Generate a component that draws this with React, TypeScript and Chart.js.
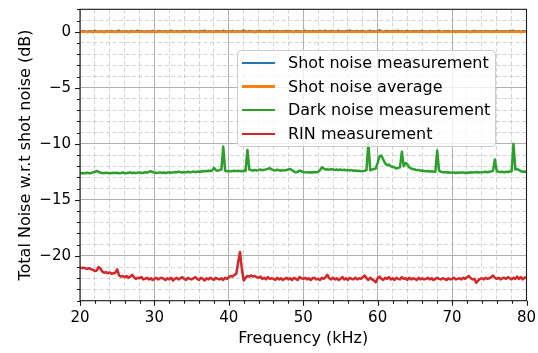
import React, { useEffect, useRef } from 'react';
import { Chart, registerables } from 'chart.js';

Chart.register(...registerables);

const freqKHz = [
  20, 20.25, 20.5, 20.75, 21, 21.25, 21.5, 21.75, 22, 22.25, 22.5, 22.75,
  23, 23.25, 23.5, 23.75, 24, 24.25, 24.5, 24.75, 25, 25.25, 25.5, 25.75,
  26, 26.25, 26.5, 26.75, 27, 27.25, 27.5, 27.75, 28, 28.25, 28.5, 28.75,
  29, 29.25, 29.5, 29.75, 30, 30.25, 30.5, 30.75, 31, 31.25, 31.5, 31.75,
  32, 32.25, 32.5, 32.75, 33, 33.25, 33.5, 33.75, 34, 34.25, 34.5, 34.75,
  35, 35.25, 35.5, 35.75, 36, 36.25, 36.5, 36.75, 37, 37.25, 37.5, 37.75,
  38, 38.25, 38.5, 38.75, 39, 39.25, 39.5, 39.75, 40, 40.25, 40.5, 40.75,
  41, 41.25, 41.5, 41.75, 42, 42.25, 42.5, 42.75, 43, 43.25, 43.5, 43.75,
  44, 44.25, 44.5, 44.75, 45, 45.25, 45.5, 45.75, 46, 46.25, 46.5, 46.75,
  47, 47.25, 47.5, 47.75, 48, 48.25, 48.5, 48.75, 49, 49.25, 49.5, 49.75,
  50, 50.25, 50.5, 50.75, 51, 51.25, 51.5, 51.75, 52, 52.25, 52.5, 52.75,
  53, 53.25, 53.5, 53.75, 54, 54.25, 54.5, 54.75, 55, 55.25, 55.5, 55.75,
  56, 56.25, 56.5, 56.75, 57, 57.25, 57.5, 57.75, 58, 58.25, 58.5, 58.75,
  59, 59.25, 59.5, 59.75, 60, 60.25, 60.5, 60.75, 61, 61.25, 61.5, 61.75,
  62, 62.25, 62.5, 62.75, 63, 63.25, 63.5, 63.75, 64, 64.25, 64.5, 64.75,
  65, 65.25, 65.5, 65.75, 66, 66.25, 66.5, 66.75, 67, 67.25, 67.5, 67.75,
  68, 68.25, 68.5, 68.75, 69, 69.25, 69.5, 69.75, 70, 70.25, 70.5, 70.75,
  71, 71.25, 71.5, 71.75, 72, 72.25, 72.5, 72.75, 73, 73.25, 73.5, 73.75,
  74, 74.25, 74.5, 74.75, 75, 75.25, 75.5, 75.75, 76, 76.25, 76.5, 76.75,
  77, 77.25, 77.5, 77.75, 78, 78.25, 78.5, 78.75, 79, 79.25, 79.5, 79.75,
  80,
];

const shotNoise = [
  0.04, -0.02, 0.06, 0.01, -0.03, 0.05, 0.02, -0.04, 0.08, 0.0, -0.02, 0.05,
  0.03, -0.05, 0.06, 0.02, -0.01, 0.07, 0.0, -0.03, 0.04, 0.09, -0.02, 0.03,
  0.0, 0.05, -0.04, 0.02, 0.06, -0.01, 0.03, 0.08, -0.02, 0.04, 0.01, -0.03,
  0.05, 0.02, -0.02, 0.07, 0.01, -0.03, 0.04, 0.06, -0.01, 0.02, 0.05, -0.04,
  0.03, 0.08, 0.0, -0.02, 0.05, 0.02, -0.03, 0.06, 0.01, 0.04, -0.02, 0.07,
  0.02, -0.01, 0.05, 0.03, -0.04, 0.06, 0.01, 0.09, -0.02, 0.03, 0.05, 0.0,
  -0.03, 0.06, 0.02, 0.04, -0.01, 0.08, 0.03, -0.02, 0.05, 0.01, 0.07, -0.03,
  0.02, 0.05, -0.01, 0.04, 0.1, 0.02, -0.02, 0.06, 0.01, 0.03, -0.04, 0.05,
  0.02, 0.07, -0.01, 0.03, 0.05, -0.03, 0.08, 0.01, 0.04, -0.02, 0.06, 0.02,
  -0.01, 0.05, 0.03, 0.07, -0.02, 0.04, 0.01, -0.03, 0.06, 0.02, 0.05, -0.01,
  0.03, 0.08, 0.0, 0.04, -0.02, 0.06, 0.02, 0.05, -0.03, 0.07, 0.01, 0.04,
  0.09, -0.01, 0.03, 0.06, 0.02, -0.02, 0.05, 0.08, 0.01, 0.04, -0.03, 0.06,
  0.03, 0.1, -0.01, 0.05, 0.02, 0.07, -0.02, 0.04, 0.06, 0.01, -0.03, 0.05,
  0.08, 0.02, 0.04, -0.01, 0.06, 0.11, 0.03, -0.02, 0.05, 0.07, 0.01, 0.04,
  -0.02, 0.06, 0.03, 0.08, 0.0, 0.05, -0.03, 0.04, 0.07, 0.02, -0.01, 0.06,
  0.03, 0.05, -0.02, 0.04, 0.08, 0.01, 0.03, -0.03, 0.06, 0.02, 0.05, -0.01,
  0.04, 0.07, 0.0, -0.02, 0.05, 0.03, 0.06, -0.01, 0.02, 0.05, -0.03, 0.04,
  0.01, 0.06, -0.02, 0.03, 0.05, 0.0, -0.03, 0.04, 0.07, 0.02, -0.01, 0.05,
  0.03, -0.02, 0.06, 0.01, 0.04, -0.03, 0.05, 0.02, 0.08, -0.01, 0.03, 0.05,
  0.0, 0.04, -0.02, 0.06, 0.02, 0.09, -0.01, 0.03, 0.05, -0.03, 0.04, 0.02,
  0.03,
];

const shotAvgFreq = [20, 80];
const shotAvg = [0, 0];

const darkNoise = [
  -12.62, -12.6, -12.64, -12.6, -12.58, -12.62, -12.6, -12.55, -12.5, -12.42, -12.5, -12.58,
  -12.6, -12.62, -12.58, -12.6, -12.63, -12.6, -12.58, -12.61, -12.59, -12.62, -12.6, -12.57,
  -12.6, -12.63, -12.58, -12.55, -12.6, -12.58, -12.62, -12.57, -12.55, -12.6, -12.58, -12.53,
  -12.58, -12.5, -12.44, -12.52, -12.57, -12.6, -12.58, -12.55, -12.58, -12.56, -12.6, -12.57,
  -12.54, -12.58, -12.55, -12.52, -12.55, -12.48, -12.53, -12.56, -12.52, -12.55, -12.5, -12.54,
  -12.52, -12.48, -12.53, -12.5, -12.47, -12.5, -12.45, -12.42, -12.45, -12.4, -12.43, -12.38,
  -12.15, -12.35, -12.4, -12.35, -12.3, -10.25, -12.4, -12.45, -12.42, -12.45, -12.43, -12.4,
  -12.44, -12.4, -12.42, -12.45, -12.4, -12.42, -10.55, -12.3, -12.35, -12.4, -12.33, -12.38,
  -12.35, -12.3, -12.36, -12.32, -12.28, -12.22, -12.18, -12.28, -12.35, -12.38, -12.32, -12.36,
  -12.4, -12.35, -12.38, -12.34, -12.3, -12.26, -12.35, -12.48, -12.55, -12.5, -12.4, -12.45,
  -12.52, -12.55, -12.53, -12.56, -12.54, -12.57, -12.52, -12.55, -12.5, -12.35, -12.1, -12.2,
  -12.3, -12.28, -12.32, -12.26, -12.3, -12.34, -12.3, -12.33, -12.3, -12.35, -12.32, -12.36,
  -12.34, -12.38, -12.35, -12.4, -12.38, -12.42, -12.4, -12.44, -12.42, -12.4, -12.35, -9.9,
  -12.35, -12.3, -12.25, -12.2, -11.7, -11.1, -11.05, -11.4, -11.75, -11.9, -11.85, -12.0,
  -12.05, -12.1, -12.2, -12.15, -12.1, -10.7, -12.0, -11.72, -11.85, -12.1, -12.2, -12.28,
  -12.3, -12.35, -12.33, -12.4, -12.38, -12.42, -12.45, -12.43, -12.47, -12.45, -12.48, -12.5,
  -10.6, -12.4, -12.5, -12.55, -12.52, -12.56, -12.54, -12.58, -12.55, -12.57, -12.6, -12.56,
  -12.58, -12.55, -12.57, -12.6, -12.56, -12.58, -12.54, -12.57, -12.55, -12.52, -12.56, -12.53,
  -12.55, -12.52, -12.5, -12.54, -12.5, -12.47, -12.4, -11.4, -12.45, -12.5, -12.52, -12.5,
  -12.53, -12.5, -12.52, -12.48, -12.45, -10.0, -12.3, -12.25, -12.35, -12.45, -12.5, -12.48,
  -12.52,
];

const rinNoise = [
  -21.04, -21.1, -21.05, -21.12, -21.15, -21.1, -21.18, -21.25, -21.35, -21.3, -21.0, -21.15,
  -21.4, -21.5, -21.45, -21.55, -21.48, -21.6, -21.55, -21.5, -21.2, -21.75, -21.85, -21.8,
  -21.9, -21.8, -21.95, -21.85, -21.7, -21.9, -22.05, -21.95, -22.0, -21.9, -22.1, -22.05,
  -21.95, -22.1, -22.0, -22.15, -22.05, -21.95, -22.1, -22.0, -21.95, -22.05, -22.15, -22.0,
  -22.1, -21.95, -22.2, -22.05, -21.95, -22.1, -22.0, -21.9, -22.05, -22.15, -21.95, -22.05,
  -22.1, -22.0, -21.9, -22.05, -22.15, -21.95, -22.05, -22.2, -22.0, -22.1, -21.95, -22.05,
  -22.15, -21.95, -22.05, -22.1, -22.0, -22.15, -21.95, -22.05, -21.9, -21.8, -21.85, -21.7,
  -21.6, -20.6, -19.65, -21.2, -22.2, -21.95, -21.8, -21.85, -21.75, -21.85, -21.8, -21.9,
  -21.95, -21.85, -22.05, -21.95, -22.1, -21.9, -22.05, -22.0, -22.05, -22.15, -21.95, -22.1,
  -22.0, -22.15, -22.05, -21.95, -22.1, -22.0, -22.15, -21.95, -22.05, -22.15, -21.9, -22.0,
  -22.05, -21.95, -22.1, -22.0, -22.15, -22.0, -21.95, -22.1, -22.05, -22.15, -21.95, -22.05,
  -21.9, -21.7, -22.0, -22.1, -21.95, -22.1, -22.0, -22.15, -22.05, -21.9, -22.1, -22.0,
  -22.15, -21.95, -22.05, -22.1, -21.95, -22.1, -22.0, -22.05, -21.9, -21.75, -22.0, -22.15,
  -21.95, -22.1, -22.2, -22.35, -22.0, -21.85, -22.05, -22.15, -21.95, -22.05, -21.9, -22.1,
  -22.0, -22.15, -21.95, -22.05, -22.1, -21.9, -22.05, -22.0, -22.15, -21.95, -22.1, -22.0,
  -22.05, -22.15, -21.95, -22.1, -22.0, -22.1, -22.05, -21.95, -22.1, -22.0, -22.15, -22.05,
  -21.95, -22.05, -22.1, -22.0, -22.05, -22.15, -22.0, -22.1, -22.05, -21.95, -22.1, -22.05,
  -22.0, -22.1, -21.95, -22.05, -21.9, -21.8, -22.0, -22.1, -22.05, -22.4, -22.2, -22.05,
  -22.0, -22.1, -21.95, -22.05, -22.0, -21.9, -21.75, -21.95, -22.05, -21.95, -22.1, -22.0,
  -21.95, -22.05, -21.9, -22.0, -22.1, -21.95, -22.05, -21.85, -22.05, -21.9, -22.1, -21.95,
  -21.9,
];

const seriesLabels = [
  'Shot noise measurement',
  'Shot noise average',
  'Dark noise measurement',
  'RIN measurement',
];
const seriesColors = ['#1f77b4', '#ff7f0e', '#2ca02c', '#d62728'];

const xMin = 20;
const xMax = 80;
const yMin = -24;
const yMax = 2;

const FONT = "'DejaVu Sans', 'Liberation Sans', sans-serif";

const isMajorX = (v: number) => Math.abs(v % 10) < 1e-9;
const isMajorY = (v: number) => Math.abs(v % 5) < 1e-9;
const fmt = (v: number) => (v < 0 ? '\u2212' + String(-v) : String(v));

const framePlugin = {
  id: 'frameAndTicks',
  afterDatasetsDraw(chart: any) {
    const { ctx, chartArea, scales } = chart;
    const { left, right, top, bottom } = chartArea;
    ctx.save();
    ctx.strokeStyle = '#1a1a1a';
    ctx.lineWidth = 1.1;
    ctx.setLineDash([]);
    ctx.beginPath();
    for (const t of scales.x.ticks) {
      const px = Math.round(scales.x.getPixelForValue(t.value)) + 0.5;
      const len = isMajorX(t.value) ? 5 : 3;
      ctx.moveTo(px, bottom);
      ctx.lineTo(px, bottom + len);
    }
    for (const t of scales.y.ticks) {
      const py = Math.round(scales.y.getPixelForValue(t.value)) + 0.5;
      const len = isMajorY(t.value) ? 5 : 3;
      ctx.moveTo(left, py);
      ctx.lineTo(left - len, py);
    }
    ctx.stroke();
    ctx.strokeRect(left, top, right - left, bottom - top);
    ctx.restore();
  },
};

export default function App() {
  const canvasRef = useRef<HTMLCanvasElement | null>(null);

  useEffect(() => {
    document.body.style.margin = '0';
    const canvas = canvasRef.current;
    if (!canvas) return;
    const toPts = (xs: number[], ys: number[]) => xs.map((x, i) => ({ x, y: ys[i] }));
    const chart = new Chart(canvas, {
      type: 'line',
      data: {
        datasets: [
          { label: seriesLabels[0], data: toPts(freqKHz, shotNoise), borderColor: seriesColors[0], order: 4 },
          { label: seriesLabels[1], data: toPts(shotAvgFreq, shotAvg), borderColor: seriesColors[1], order: 3 },
          { label: seriesLabels[2], data: toPts(freqKHz, darkNoise), borderColor: seriesColors[2], order: 2 },
          { label: seriesLabels[3], data: toPts(freqKHz, rinNoise), borderColor: seriesColors[3], order: 1 },
        ].map((d) => ({
          ...d,
          borderWidth: 2.5,
          pointRadius: 0,
          tension: 0,
          fill: false,
          borderJoinStyle: 'round' as const,
          borderCapStyle: 'butt' as const,
        })),
      },
      options: {
        responsive: false,
        animation: false,
        devicePixelRatio: 1,
        layout: { padding: { top: 9.3, right: 11.5, left: 0, bottom: 0 } },
        font: { family: FONT },
        plugins: {
          legend: { display: false },
          tooltip: { enabled: false },
        },
        scales: {
          x: {
            type: 'linear',
            min: xMin,
            max: xMax,
            afterFit: (s: any) => {
              s.height = 52.3;
            },
            ticks: {
              stepSize: 2,
              autoSkip: false,
              maxRotation: 0,
              padding: 0,
              color: '#000',
              font: { family: FONT, size: 15 },
              callback: (v: any) => (isMajorX(Number(v)) ? fmt(Number(v)) : ''),
            },
            grid: {
              drawTicks: true,
              tickLength: 8,
              tickColor: 'rgba(0,0,0,0)',
              lineWidth: 1,
              color: (c: any) =>
                c.tick && isMajorX(c.tick.value) ? '#b0b0b0' : 'rgba(176,176,176,0.55)',
            },
            border: {
              display: false,
              dash: (c: any) => (c.tick && !isMajorX(c.tick.value) ? [4, 2.5] : []),
            },
            title: {
              display: true,
              text: 'Frequency (kHz)',
              color: '#000',
              font: { family: FONT, size: 16 },
              padding: { top: 0, bottom: 4.5 },
            },
          },
          y: {
            type: 'linear',
            min: yMin,
            max: yMax,
            afterFit: (s: any) => {
              s.width = 80;
            },
            ticks: {
              stepSize: 1,
              autoSkip: false,
              padding: 0,
              color: '#000',
              font: { family: FONT, size: 15 },
              callback: (v: any) => (isMajorY(Number(v)) ? fmt(Number(v)) : ''),
            },
            grid: {
              drawTicks: true,
              tickLength: 9,
              tickColor: 'rgba(0,0,0,0)',
              lineWidth: 1,
              color: (c: any) =>
                c.tick && isMajorY(c.tick.value) ? '#b0b0b0' : 'rgba(176,176,176,0.55)',
            },
            border: {
              display: false,
              dash: (c: any) => (c.tick && !isMajorY(c.tick.value) ? [4, 2.5] : []),
            },
            title: {
              display: true,
              text: 'Total Noise w.r.t shot noise (dB)',
              color: '#000',
              font: { family: FONT, size: 16 },
              padding: { top: 16, bottom: 0 },
            },
          },
        },
      } as any,
      plugins: [framePlugin],
    });
    return () => chart.destroy();
  }, []);

  const rowTop = 13;
  const rowGap = 23.6;

  return (
    <div style={{ position: 'relative', width: 538, height: 353, fontFamily: FONT }}>
      <canvas ref={canvasRef} width={538} height={353} style={{ display: 'block' }} />
      <div
        style={{
          position: 'absolute',
          left: 236.7,
          top: 50,
          width: 259.6,
          height: 96.7,
          boxSizing: 'border-box',
          border: '1px solid #cccccc',
          borderRadius: 4,
          background: 'rgba(255,255,255,0.8)',
        }}
      >
        {seriesLabels.map((lab, k) => {
          const cy = rowTop + rowGap * k;
          return (
            <React.Fragment key={lab}>
              <div
                style={{
                  position: 'absolute',
                  left: 4,
                  top: cy - 1.25 - 1,
                  width: 33,
                  height: 2.5,
                  background: seriesColors[k],
                }}
              />
              <div
                style={{
                  position: 'absolute',
                  left: 50.3,
                  top: cy - 10 - 1,
                  height: 20,
                  lineHeight: '20px',
                  fontSize: 16,
                  color: '#000',
                  whiteSpace: 'nowrap',
                }}
              >
                {lab}
              </div>
            </React.Fragment>
          );
        })}
      </div>
    </div>
  );
}
